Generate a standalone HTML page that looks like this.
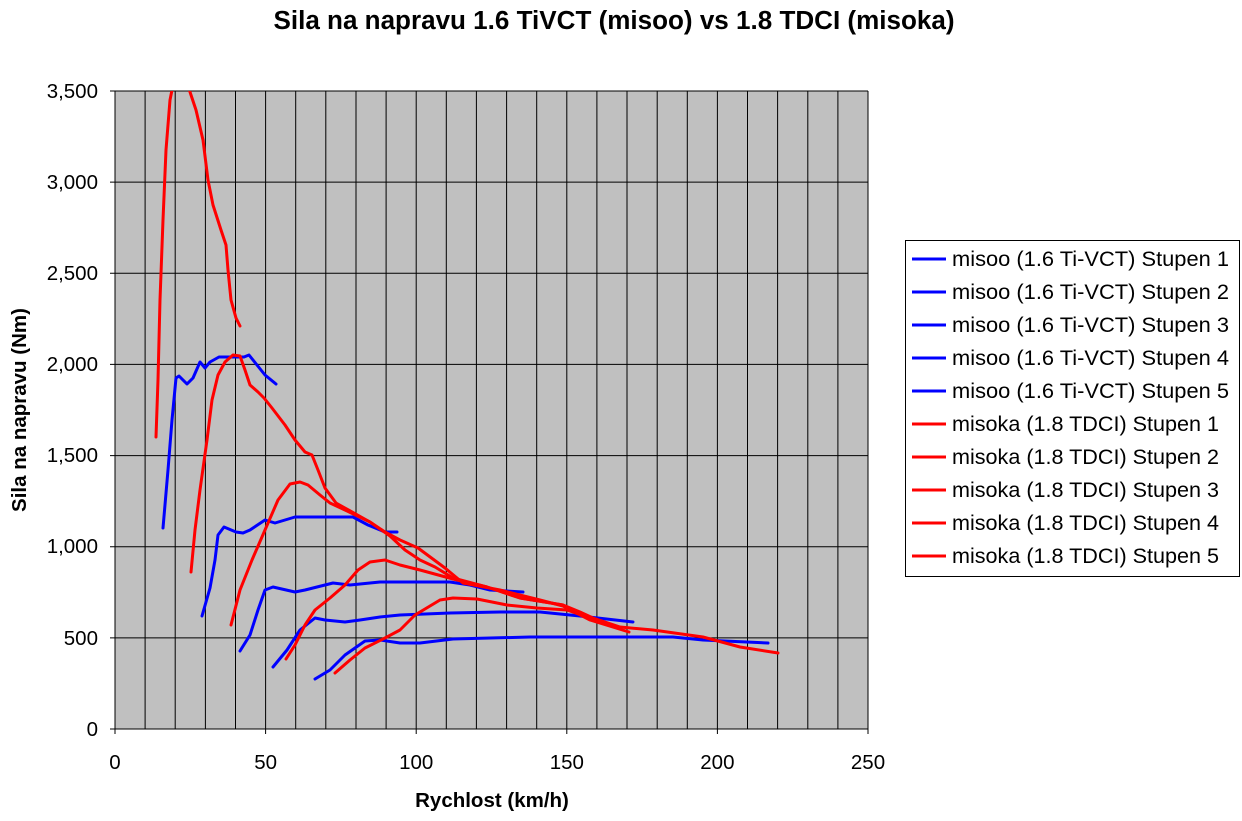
<!DOCTYPE html>
<html><head><style>
body{margin:0;background:#fff;}
svg text{font-family:"Liberation Sans",Arial,sans-serif;}
</style></head><body>
<svg width="1242" height="816" viewBox="0 0 1242 816" xmlns="http://www.w3.org/2000/svg">
<rect x="0" y="0" width="1242" height="816" fill="#fff"/>
<text x="614" y="29" font-size="25.5" font-weight="bold" text-anchor="middle" textLength="681" lengthAdjust="spacingAndGlyphs">Sila na napravu 1.6 TiVCT (misoo) vs 1.8 TDCI (misoka)</text>
<rect x="115" y="91" width="753" height="638" fill="#c0c0c0"/>
<g stroke="#000" stroke-width="1">
<path d="M145.1 91V729M175.2 91V729M205.4 91V729M235.5 91V729M265.6 91V729M295.7 91V729M325.8 91V729M356 91V729M386.1 91V729M416.2 91V729M446.3 91V729M476.4 91V729M506.6 91V729M536.7 91V729M566.8 91V729M596.9 91V729M627 91V729M657.2 91V729M687.3 91V729M717.4 91V729M747.5 91V729M777.6 91V729M807.8 91V729M837.9 91V729M868 91V729"/>
<path d="M115 91H868M115 182.1H868M115 273.3H868M115 364.4H868M115 455.6H868M115 546.7H868M115 637.9H868"/>
<path d="M115 91V729H868" fill="none"/>
<path d="M110 91H115M110 182.1H115M110 273.3H115M110 364.4H115M110 455.6H115M110 546.7H115M110 637.9H115M110 729H115"/>
<path d="M115 729V734M265.6 729V734M416.2 729V734M566.8 729V734M717.4 729V734M868 729V734"/>
</g>
<g font-size="20.5" text-anchor="end">
<text x="98" y="98">3,500</text><text x="98" y="189">3,000</text><text x="98" y="280">2,500</text><text x="98" y="371">2,000</text><text x="98" y="462">1,500</text><text x="98" y="553">1,000</text><text x="98" y="645">500</text><text x="98" y="736">0</text>
</g>
<g font-size="20.5" text-anchor="middle">
<text x="115" y="769">0</text><text x="265.6" y="769">50</text><text x="416.2" y="769">100</text><text x="566.8" y="769">150</text><text x="717.4" y="769">200</text><text x="868" y="769">250</text>
</g>
<text x="492" y="807" font-size="20.5" font-weight="bold" text-anchor="middle">Rychlost (km/h)</text>
<text transform="translate(26,410) rotate(-90)" font-size="20.5" font-weight="bold" text-anchor="middle">Sila na napravu (Nm)</text>
<svg x="115" y="91" width="753" height="638" viewBox="115 91 753 638" overflow="hidden">
<g fill="none" stroke-width="3" stroke-linejoin="round" stroke-linecap="round">
<g stroke="#0000ff">
<polyline points="163,528 168,470 172,420 176,378 179,376 187,384 193,378 200,362 205,368 210,362 219,357 233,357 244,357 249,355 265,375 276,384"/>
<polyline points="202,616 210,588 215,560 218,535 224,527 236,532 243,533 250,530 265,520 275,523 295,517 320,517 353,517 368,525 385,532 397,532"/>
<polyline points="240,651 250,635 258,610 265,590 273,587 295,592 305,590 333,583 350,585 380,582 450,582 470,585 490,590 523,592"/>
<polyline points="273,667 287,650 300,630 315,618 325,620 345,622 360,620 380,617 400,615 450,613 500,612 540,612 580,616 633,622"/>
<polyline points="315,679 330,670 345,655 365,641 380,640 400,643 420,643 453,639 530,637 673,637 703,640 768,643"/>
</g>
<g stroke="#ff0000">
<polyline points="156,437 158,380 160,300 163,220 166,150 170,100 173,85"/>
<polyline points="188,85 190,92 196,110 203,140 208,180 213,205 221,230 226,245 228,270 231,300 236,318 240,326"/>
<polyline points="191,572 195,530 200,490 207,440 212,400 218,375 225,362 233,355 240,356 245,370 250,385 258,392 264,398 272,408 285,425 295,440 305,452 312,455 318,470 325,488 336,503 345,508 370,522 385,532 400,540 418,548 445,568 463,583 500,590 540,600 563,606 590,620 629,632"/>
<polyline points="231,625 240,590 252,560 265,530 278,500 290,484 300,482 308,485 320,495 330,503 345,510 370,522 390,536 405,550 420,560 435,567 453,578 487,587 520,598 563,605 580,612 593,618 620,627 653,630 703,637 740,647 778,653"/>
<polyline points="286,659 295,645 305,625 315,610 330,598 345,585 358,570 370,562 385,560 400,565 420,570 453,579 487,587 520,598 563,605"/>
<polyline points="335,673 350,660 365,648 385,638 400,630 415,615 440,600 453,598 477,599 507,605 537,608 567,610 587,617 607,623"/>
</g>
</g>
</svg>
<rect x="905.5" y="240.5" width="334" height="336" fill="#fff" stroke="#000" stroke-width="1"/>
<g stroke-width="3">
<path d="M912 259H946M912 292H946M912 325H946M912 358H946M912 391H946" stroke="#0000ff"/>
<path d="M912 424H946M912 457H946M912 490H946M912 523H946M912 556H946" stroke="#ff0000"/>
</g>
<g font-size="21.5">
<text x="952" y="266" textLength="277" lengthAdjust="spacingAndGlyphs">misoo (1.6 Ti-VCT) Stupen 1</text>
<text x="952" y="299" textLength="277" lengthAdjust="spacingAndGlyphs">misoo (1.6 Ti-VCT) Stupen 2</text>
<text x="952" y="332" textLength="277" lengthAdjust="spacingAndGlyphs">misoo (1.6 Ti-VCT) Stupen 3</text>
<text x="952" y="365" textLength="277" lengthAdjust="spacingAndGlyphs">misoo (1.6 Ti-VCT) Stupen 4</text>
<text x="952" y="398" textLength="277" lengthAdjust="spacingAndGlyphs">misoo (1.6 Ti-VCT) Stupen 5</text>
<text x="952" y="431" textLength="267" lengthAdjust="spacingAndGlyphs">misoka (1.8 TDCI) Stupen 1</text>
<text x="952" y="464" textLength="267" lengthAdjust="spacingAndGlyphs">misoka (1.8 TDCI) Stupen 2</text>
<text x="952" y="497" textLength="267" lengthAdjust="spacingAndGlyphs">misoka (1.8 TDCI) Stupen 3</text>
<text x="952" y="530" textLength="267" lengthAdjust="spacingAndGlyphs">misoka (1.8 TDCI) Stupen 4</text>
<text x="952" y="563" textLength="267" lengthAdjust="spacingAndGlyphs">misoka (1.8 TDCI) Stupen 5</text>
</g>
</svg>
</body></html>
